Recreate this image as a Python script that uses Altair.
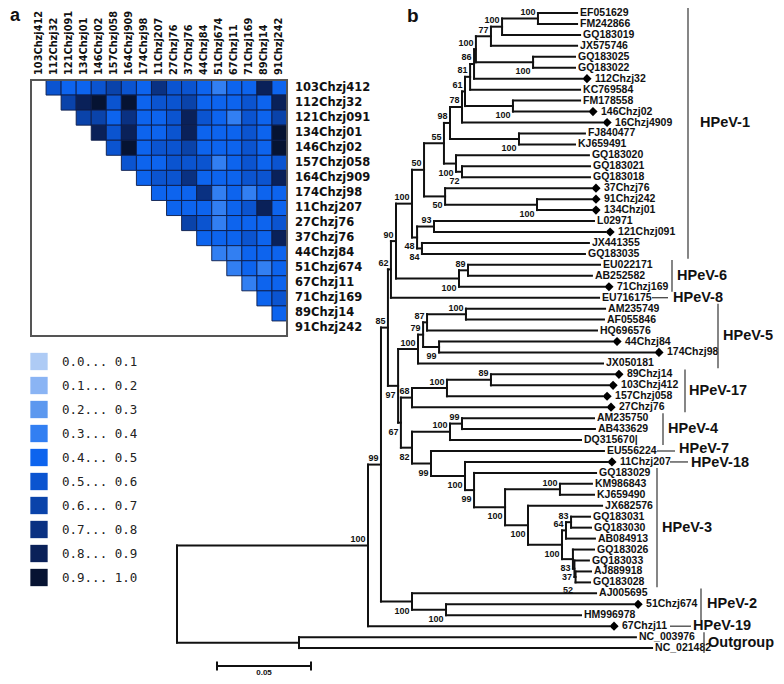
import altair as alt
import pandas as pd

# ======================= DATA =======================
# ---- panel a: pairwise matrix of the 17 study isolates ----
ISOLATES = ["103Chzj412", "112Chzj32", "121Chzj091", "134Chzj01", "146Chzj02",
            "157Chzj058", "164Chzj909", "174Chzj98", "11Chzj207", "27Chzj76",
            "37Chzj76", "44Chzj84", "51Chzj674", "67Chzj11", "71Chzj169",
            "89Chzj14", "91Chzj242"]
# row i holds the values for columns i+1 ... 16 (upper triangle)
DIST_ROWS = [
    [0.55, 0.45, 0.45, 0.55, 0.65, 0.55, 0.45, 0.75, 0.55, 0.55, 0.45, 0.35, 0.45, 0.45, 0.85, 0.45],
    [0.65, 0.85, 0.95, 0.55, 0.95, 0.45, 0.55, 0.55, 0.65, 0.45, 0.45, 0.45, 0.55, 0.45, 0.85],
    [0.65, 0.65, 0.45, 0.75, 0.45, 0.45, 0.55, 0.85, 0.55, 0.45, 0.35, 0.55, 0.45, 0.65],
    [0.85, 0.55, 0.85, 0.45, 0.45, 0.55, 0.85, 0.45, 0.45, 0.45, 0.55, 0.45, 0.95],
    [0.55, 0.95, 0.45, 0.55, 0.55, 0.65, 0.45, 0.45, 0.45, 0.55, 0.45, 0.95],
    [0.55, 0.45, 0.45, 0.55, 0.55, 0.55, 0.35, 0.45, 0.55, 0.45, 0.55],
    [0.45, 0.55, 0.55, 0.75, 0.45, 0.45, 0.45, 0.55, 0.55, 0.85],
    [0.45, 0.45, 0.45, 0.75, 0.35, 0.45, 0.35, 0.45, 0.45],
    [0.45, 0.45, 0.45, 0.35, 0.45, 0.55, 0.85, 0.45],
    [0.65, 0.55, 0.35, 0.45, 0.45, 0.45, 0.55],
    [0.45, 0.45, 0.45, 0.55, 0.45, 0.85],
    [0.35, 0.35, 0.45, 0.45, 0.45],
    [0.35, 0.45, 0.35, 0.45],
    [0.35, 0.45, 0.45],
    [0.45, 0.55],
    [0.45],
]
BIN_EDGES = [0.0, 0.1, 0.2, 0.3, 0.4, 0.5, 0.6, 0.7, 0.8, 0.9, 1.0]
BIN_COLORS = ["#aecbf5", "#8ab4f4", "#5c98ef", "#327ff2", "#0d64ee",
              "#0b54d0", "#0a43aa", "#0a3182", "#0a2159", "#061332"]

# ---- panel b: phylogenetic tree (distance from root, substitutions/site) ----
NODE_NAME = ["root", "OUT", "ING", "N99", "N85", "N21", "N20", "N19", "N18", "N15",
             "N12", "N10", "N9", "N7", "N6", "N5", "N3", "N2", "N1", "N4",
             "N8", "N11", "N14", "N13", "N17", "N16", "N48", "N93", "N84", "HP6",
             "HP6a", "N97", "HP5", "N79", "N87", "N100j", "N99e", "N67", "HP17", "N100l",
             "N89b", "N82", "HP4", "N99c", "N99b", "N100d", "N99d", "N100e", "N100f", "N100g",
             "N100h", "N64", "N83", "N83b", "N37", "N52", "HP2", "HP2b"]
NODE_PARENT = [None, "root", "root", "ING", "N99", "N85", "N21", "N20", "N19", "N18",
               "N15", "N12", "N10", "N9", "N7", "N6", "N5", "N3", "N2", "N5",
               "N9", "N12", "N15", "N14", "N18", "N17", "N19", "N48", "N48", "N20",
               "HP6", "N85", "N97", "HP5", "N79", "N87", "N79", "N97", "N67", "HP17",
               "N100l", "N67", "N82", "HP4", "N82", "N99b", "N100d", "N99d", "N100e", "N100e",
               "N100g", "N100h", "N64", "N100h", "N83b", "N37", "N99", "HP2"]
NODE_DIST = [0.0, 0.0649, 0.1016, 0.1085, 0.1122, 0.1138, 0.1165, 0.1250, 0.1314, 0.1420,
             0.1452, 0.1516, 0.1532, 0.1559, 0.1580, 0.1590, 0.1670, 0.1729, 0.1920, 0.1894,
             0.1787, 0.1819, 0.1484, 0.1516, 0.1426, 0.1915, 0.1277, 0.1367, 0.1303, 0.1500,
             0.1548, 0.1176, 0.1282, 0.1309, 0.1330, 0.1537, 0.1394, 0.1191, 0.1250, 0.1436,
             0.1670, 0.1250, 0.1452, 0.1516, 0.1351, 0.1532, 0.1580, 0.1745, 0.2037, 0.1867,
             0.2048, 0.2069, 0.2096, 0.2106, 0.2114, 0.2120, 0.1250, 0.1431]
NODE_SUPPORT = [None, None, 100, 99, 85, 62, 90, 100, 50, 55,
                98, 78, 61, 81, 86, 100, 77, 100, 100, 100,
                100, 100, 100, 72, 50, 100, 48, 93, 84, 100,
                89, 97, 100, 79, 87, 100, 99, 67, 68, 100,
                89, 82, 100, 99, 99, 100, 99, 100, 100, 100,
                100, 64, 83, 83, 37, 52, 100, 100]

LEAF_NAME = ["EF051629", "FM242866", "GQ183019", "JX575746", "GQ183025", "GQ183022",
             "112Chzj32", "KC769584", "FM178558", "146Chzj02", "16Chzj4909", "FJ840477",
             "KJ659491", "GQ183020", "GQ183021", "GQ183018", "37Chzj76", "91Chzj242",
             "134Chzj01", "L02971", "121Chzj091", "JX441355", "GQ183035", "EU022171",
             "AB252582", "71Chzj169", "EU716175", "AM235749", "AF055846", "HQ696576",
             "44Chzj84", "174Chzj98", "JX050181", "89Chzj14", "103Chzj412", "157Chzj058",
             "27Chzj76", "AM235750", "AB433629", "DQ315670|", "EU556224", "11Chzj207",
             "GQ183029", "KM986843", "KJ659490", "JX682576", "GQ183031", "GQ183030",
             "AB084913", "GQ183026", "GQ183033", "AJ889918", "GQ183028", "AJ005695",
             "51Chzj674", "HM996978", "67Chzj11", "NC_003976", "NC_021482"]
LEAF_PARENT = ["N1", "N1", "N2", "N3", "N4", "N4", "N6", "N7", "N8", "N8", "N10", "N11",
               "N11", "N14", "N13", "N13", "N17", "N16", "N16", "N93", "N93", "N84", "N84",
               "HP6a", "HP6a", "HP6", "N21", "N100j", "N100j", "N87", "N99e", "N99e", "HP5",
               "N89b", "N89b", "N100l", "HP17", "N99c", "N99c", "HP4", "N99b", "N100d",
               "N99d", "N100f", "N100f", "N100g", "N83", "N83", "N64", "N83b", "N37", "N52",
               "N52", "HP2", "HP2b", "HP2b", "ING", "OUT", "OUT"]
LEAF_DIST = [0.2128, 0.2128, 0.2144, 0.2128, 0.2117, 0.2117, 0.2154, 0.2144, 0.2144, 0.2186,
             0.2261, 0.2170, 0.2117, 0.2191, 0.2197, 0.2197, 0.2202, 0.2202, 0.2202, 0.2218,
             0.2277, 0.2191, 0.2170, 0.2250, 0.2207, 0.2271, 0.2245, 0.2277, 0.2271, 0.2234,
             0.2314, 0.2537, 0.2266, 0.2324, 0.2293, 0.2261, 0.2282, 0.2218, 0.2223, 0.2149,
             0.2271, 0.2287, 0.2229, 0.2207, 0.2218, 0.2261, 0.2197, 0.2202, 0.2223, 0.2218,
             0.2191, 0.2202, 0.2197, 0.2229, 0.2426, 0.2149, 0.2298, 0.2441, 0.2527]

CLADE_NAME = ["HPeV-1", "HPeV-6", "HPeV-8", "HPeV-5", "HPeV-17", "HPeV-4", "HPeV-7",
              "HPeV-18", "HPeV-3", "HPeV-2", "HPeV-19", "Outgroup"]
CLADE_FIRST = ["EF051629", "EU022171", "EU716175", "AM235749", "89Chzj14", "AM235750",
               "EU556224", "11Chzj207", "GQ183029", "AJ005695", "67Chzj11", "NC_003976"]
CLADE_LAST = ["GQ183035", "71Chzj169", "EU716175", "JX050181", "27Chzj76", "DQ315670|",
              "EU556224", "11Chzj207", "GQ183028", "HM996978", "67Chzj11", "NC_021482"]
SCALE_BAR_LEN = 0.05

# ======================= LAYOUT / STYLE =======================
W, H = 768, 668
OFF = 8                      # page margin (reference pixel -> chart pixel)
HM_LEFT, HM_TOP, HM_CELL = 31, 80, 15.06
LEG_Y0, LEG_STEP, LEG_SQ_X, LEG_TXT_X = 361.5, 24, 39, 62
TREE_ROOT_PX, TREE_PX_PER_UNIT = 177, 1880
TREE_TOP_PX, TREE_ROW_PX = 13, 10.95
BOOT_BELOW = {"N4", "N8", "N11", "N14", "N13", "N17", "N16", "N48", "N84", "HP6", "N99e",
              "N97", "N67", "N82", "N99b", "N100d", "N99d", "N100e", "N100g", "N100h",
              "N83b", "N37", "N52", "HP2", "HP2b"}
BOOT_DY_OVERRIDE = {"N37": 8, "N52": 13}
CLADE_BAR_PX = {"HPeV-1": 688, "HPeV-6": 672, "HPeV-5": 718, "HPeV-17": 685, "HPeV-4": 663,
                "HPeV-3": 657, "HPeV-2": 701, "Outgroup": 704}
CLADE_LINK_PX = {"HPeV-8": (652, 668), "HPeV-7": (657, 675), "HPeV-18": (670, 688),
                 "HPeV-19": (670, 691)}
CLADE_LABEL_PX = {"HPeV-1": 700, "HPeV-6": 677, "HPeV-8": 673, "HPeV-5": 723, "HPeV-17": 689,
                  "HPeV-4": 668, "HPeV-7": 679, "HPeV-18": 691, "HPeV-3": 662, "HPeV-2": 707,
                  "HPeV-19": 693, "Outgroup": 708}
CLADE_LABEL_ROW = {"HPeV-1": 10.0, "HPeV-7": 39.8, "HPeV-18": 41.1}
SCALE_BAR_PX, SCALE_BAR_Y_PX = 217, 666
INK = "#111111"
SANS = "Liberation Sans"


def lin_dom(px0, per_unit, size, v0=0.0):
    """domain so that value v0 sits at reference pixel px0 with per_unit px per unit"""
    return [v0 + (OFF - px0) / per_unit, v0 + (OFF + size - px0) / per_unit]


def sx(dom):
    return alt.Scale(domain=dom, zero=False, nice=False)


def sy(dom):
    return alt.Scale(domain=dom, zero=False, nice=False, reverse=True)


HM_X = lin_dom(HM_LEFT, HM_CELL, W)
HM_Y = lin_dom(HM_TOP, HM_CELL, H)
LEG_Y = lin_dom(LEG_Y0, LEG_STEP, H)
TR_X = lin_dom(TREE_ROOT_PX, TREE_PX_PER_UNIT, W)
TR_Y = lin_dom(TREE_TOP_PX, TREE_ROW_PX, H)
COLOR_SCALE = alt.Scale(type="threshold", domain=BIN_EDGES[1:-1], range=BIN_COLORS)

layers = []

# ======================= PANEL A =======================
n = len(ISOLATES)
cells = []
for i, vals in enumerate(DIST_ROWS):
    for k, v in enumerate(vals):
        j = i + 1 + k
        cells.append(dict(c=j, c2=j + 1, r=i, r2=i + 1, v=v))
cells = pd.DataFrame(cells)

layers.append(alt.Chart(cells).mark_rect(stroke="#0c1c48", strokeWidth=0.9).encode(
    x=alt.X("c:Q", scale=sx(HM_X), axis=None), x2="c2:Q",
    y=alt.Y("r:Q", scale=sy(HM_Y), axis=None), y2="r2:Q",
    color=alt.Color("v:Q", scale=COLOR_SCALE, legend=None)))

box = pd.DataFrame([dict(c=0, c2=n, r=0, r2=n)])
layers.append(alt.Chart(box).mark_rect(fill="transparent", stroke="#555555", strokeWidth=2).encode(
    x=alt.X("c:Q", scale=sx(HM_X), axis=None), x2="c2:Q",
    y=alt.Y("r:Q", scale=sy(HM_Y), axis=None), y2="r2:Q"))

collab = pd.DataFrame(dict(name=ISOLATES, c=[i + 0.5 for i in range(n)], r=[0] * n))
layers.append(alt.Chart(collab).mark_text(
    angle=270, align="left", baseline="middle", yOffset=-5,
    font="DejaVu Sans", fontWeight="bold", fontSize=9.8, color=INK).encode(
    x=alt.X("c:Q", scale=sx(HM_X), axis=None),
    y=alt.Y("r:Q", scale=sy(HM_Y), axis=None), text="name:N"))

rowlab = pd.DataFrame(dict(name=ISOLATES, c=[n] * n, r=[i + 0.5 for i in range(n)]))
layers.append(alt.Chart(rowlab).mark_text(
    align="left", baseline="middle", dx=8,
    font="DejaVu Sans", fontWeight="bold", fontSize=11.5, color=INK).encode(
    x=alt.X("c:Q", scale=sx(HM_X), axis=None),
    y=alt.Y("r:Q", scale=sy(HM_Y), axis=None), text="name:N"))

leg = pd.DataFrame(dict(
    k=list(range(10)),
    mid=[(BIN_EDGES[i] + BIN_EDGES[i + 1]) / 2 for i in range(10)],
    label=[f"{BIN_EDGES[i]:.1f}... {BIN_EDGES[i + 1]:.1f}" for i in range(10)]))
layers.append(alt.Chart(leg).mark_square(size=300, opacity=1).encode(
    x=alt.value(LEG_SQ_X - OFF),
    y=alt.Y("k:Q", scale=sy(LEG_Y), axis=None),
    color=alt.Color("mid:Q", scale=COLOR_SCALE, legend=None)))
layers.append(alt.Chart(leg).mark_text(
    align="left", baseline="middle", font="DejaVu Sans Mono", fontSize=12.5, color="#222222").encode(
    x=alt.value(LEG_TXT_X - OFF),
    y=alt.Y("k:Q", scale=sy(LEG_Y), axis=None), text="label:N"))

# ======================= PANEL B =======================
dist = dict(zip(NODE_NAME, NODE_DIST))
dist.update(zip(LEAF_NAME, LEAF_DIST))
parent = dict(zip(NODE_NAME, NODE_PARENT))
parent.update(zip(LEAF_NAME, LEAF_PARENT))
leaf_row = {nm: i for i, nm in enumerate(LEAF_NAME)}
children = {}
for nm, p in parent.items():
    if p is not None:
        children.setdefault(p, []).append(nm)

ycache = {}


def node_y(nm):
    if nm in leaf_row:
        return leaf_row[nm]
    if nm not in ycache:
        ys = [node_y(c) for c in children[nm]]
        ycache[nm] = (min(ys) + max(ys)) / 2
    return ycache[nm]


segs = []
for nm, p in parent.items():
    if p is not None:
        y = node_y(nm)
        segs.append(dict(x=dist[p], x2=dist[nm], y=y, y2=y))
for nm in NODE_NAME:
    ys = [node_y(c) for c in children[nm]]
    segs.append(dict(x=dist[nm], x2=dist[nm], y=min(ys), y2=max(ys)))
segs = pd.DataFrame(segs)

layers.append(alt.Chart(segs).mark_rule(strokeWidth=2, color=INK, strokeCap="square").encode(
    x=alt.X("x:Q", scale=sx(TR_X), axis=None), x2="x2:Q",
    y=alt.Y("y:Q", scale=sy(TR_Y), axis=None), y2="y2:Q"))

leaves = pd.DataFrame(dict(name=LEAF_NAME, x=LEAF_DIST, y=list(range(len(LEAF_NAME)))))
leaves["study"] = leaves["name"].str.contains("Chzj")
study = leaves[leaves["study"]]
ref = leaves[~leaves["study"]]

layers.append(alt.Chart(study).mark_point(shape="diamond", filled=True, size=85, opacity=1,
                                          color="#000000", xOffset=5).encode(
    x=alt.X("x:Q", scale=sx(TR_X), axis=None),
    y=alt.Y("y:Q", scale=sy(TR_Y), axis=None)))
for dfl, dx in ((study, 13), (ref, 3)):
    layers.append(alt.Chart(dfl).mark_text(
        align="left", baseline="middle", dx=dx, font=SANS, fontWeight="bold",
        fontSize=10.5, color=INK).encode(
        x=alt.X("x:Q", scale=sx(TR_X), axis=None),
        y=alt.Y("y:Q", scale=sy(TR_Y), axis=None), text="name:N"))

boot_rows = []
for nm, s in zip(NODE_NAME, NODE_SUPPORT):
    if s is None:
        continue
    dy = BOOT_DY_OVERRIDE.get(nm, 9 if nm in BOOT_BELOW else -6.5)
    boot_rows.append(dict(x=dist[nm], y=node_y(nm), s=str(s), dy=dy))
boot = pd.DataFrame(boot_rows)
for dy in sorted(boot["dy"].unique()):
    layers.append(alt.Chart(boot[boot["dy"] == dy]).mark_text(
        align="right", baseline="middle", dx=-2.5, dy=float(dy), font=SANS, fontWeight="bold",
        fontSize=9, color=INK).encode(
        x=alt.X("x:Q", scale=sx(TR_X), axis=None),
        y=alt.Y("y:Q", scale=sy(TR_Y), axis=None), text="s:N"))


def px_to_dist(px):
    return (px - TREE_ROOT_PX) / TREE_PX_PER_UNIT


bars, links, clabels = [], [], []
for nm, a, b in zip(CLADE_NAME, CLADE_FIRST, CLADE_LAST):
    r0, r1 = leaf_row[a], leaf_row[b]
    if nm in CLADE_BAR_PX:
        bx = px_to_dist(CLADE_BAR_PX[nm])
        bars.append(dict(x=bx, y=r0 - 0.45, y2=r1 + 0.45))
    if nm in CLADE_LINK_PX:
        l0, l1 = CLADE_LINK_PX[nm]
        links.append(dict(x=px_to_dist(l0), x2=px_to_dist(l1), y=r0))
    clabels.append(dict(name=nm, x=px_to_dist(CLADE_LABEL_PX[nm]),
                        y=CLADE_LABEL_ROW.get(nm, (r0 + r1) / 2)))

layers.append(alt.Chart(pd.DataFrame(bars)).mark_rule(strokeWidth=1.3, color="#444444").encode(
    x=alt.X("x:Q", scale=sx(TR_X), axis=None),
    y=alt.Y("y:Q", scale=sy(TR_Y), axis=None), y2="y2:Q"))
layers.append(alt.Chart(pd.DataFrame(links)).mark_rule(strokeWidth=1.3, color="#444444").encode(
    x=alt.X("x:Q", scale=sx(TR_X), axis=None), x2="x2:Q",
    y=alt.Y("y:Q", scale=sy(TR_Y), axis=None)))
layers.append(alt.Chart(pd.DataFrame(clabels)).mark_text(
    align="left", baseline="middle", font=SANS, fontWeight="bold", fontSize=14.5,
    color=INK).encode(
    x=alt.X("x:Q", scale=sx(TR_X), axis=None),
    y=alt.Y("y:Q", scale=sy(TR_Y), axis=None), text="name:N"))

# scale bar
sb0 = px_to_dist(SCALE_BAR_PX)
sby = (SCALE_BAR_Y_PX - TREE_TOP_PX) / TREE_ROW_PX
sbar = pd.DataFrame([
    dict(x=sb0, x2=sb0 + SCALE_BAR_LEN, y=sby, y2=sby),
    dict(x=sb0, x2=sb0, y=sby - 0.4, y2=sby + 0.4),
    dict(x=sb0 + SCALE_BAR_LEN, x2=sb0 + SCALE_BAR_LEN, y=sby - 0.4, y2=sby + 0.4),
])
layers.append(alt.Chart(sbar).mark_rule(strokeWidth=2, color=INK).encode(
    x=alt.X("x:Q", scale=sx(TR_X), axis=None), x2="x2:Q",
    y=alt.Y("y:Q", scale=sy(TR_Y), axis=None), y2="y2:Q"))
sbt = pd.DataFrame([dict(x=sb0 + SCALE_BAR_LEN / 2, y=sby, t=f"{SCALE_BAR_LEN:.2f}")])
layers.append(alt.Chart(sbt).mark_text(
    baseline="middle", dy=7, font=SANS, fontWeight="bold", fontSize=8, color=INK).encode(
    x=alt.X("x:Q", scale=sx(TR_X), axis=None),
    y=alt.Y("y:Q", scale=sy(TR_Y), axis=None), text="t:N"))

# panel letters
letters = pd.DataFrame(dict(t=["a", "b"]))
layers.append(alt.Chart(letters[letters.t == "a"]).mark_text(
    align="left", baseline="alphabetic", font=SANS, fontWeight="bold", fontSize=18,
    color=INK).encode(x=alt.value(10 - OFF), y=alt.value(21 - OFF), text="t:N"))
layers.append(alt.Chart(letters[letters.t == "b"]).mark_text(
    align="left", baseline="alphabetic", font=SANS, fontWeight="bold", fontSize=19,
    color=INK).encode(x=alt.value(407 - OFF), y=alt.value(22 - OFF), text="t:N"))

chart = alt.layer(*layers).resolve_scale(
    x="independent", y="independent", color="independent"
).properties(
    width=W, height=H, autosize=alt.AutoSizeParams(type="none"), padding=0
).configure_view(stroke=None)

chart.save("out.html", embed_options={"renderer": "svg", "actions": False})
